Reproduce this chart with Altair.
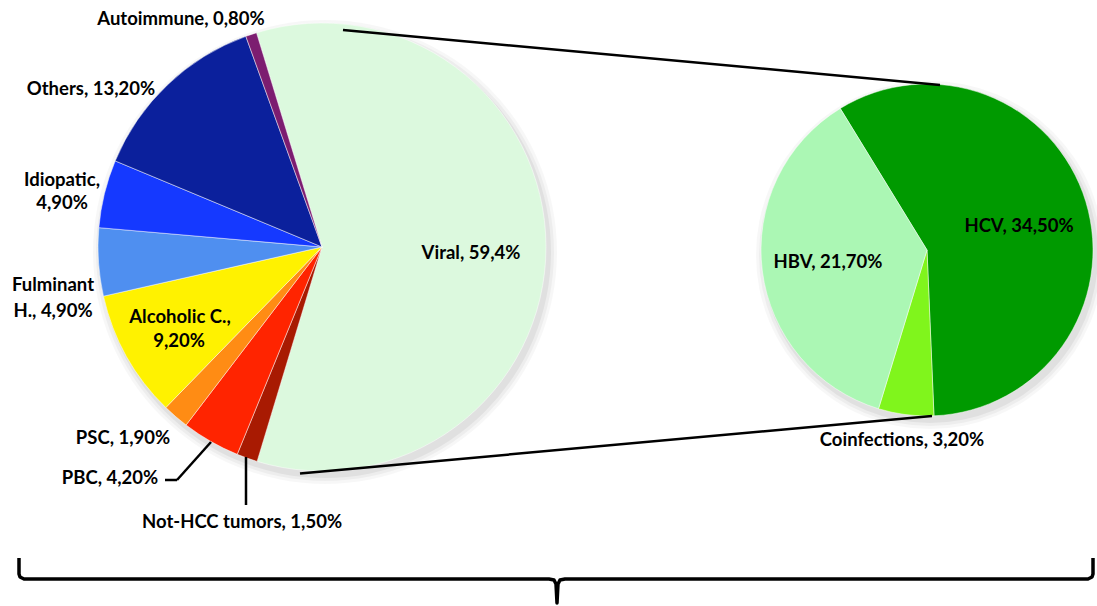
import math
import altair as alt
import pandas as pd

W, H = 1097, 606

# ---- data ----
main_cats = ["Viral", "Not-HCC tumors", "PBC", "PSC", "Alcoholic C.",
             "Fulminant H.", "Idiopatic", "Others", "Autoimmune"]
main_vals = [59.4, 1.5, 4.2, 1.9, 9.2, 4.9, 4.9, 13.2, 0.8]
main_colors = ["#dcf9de", "#a81a02", "#ff2400", "#ff8c14", "#fff200",
               "#4f8ff0", "#1539ff", "#0b209c", "#7c1d70"]

viral_cats = ["HCV", "Coinfections", "HBV"]
viral_vals = [34.5, 3.2, 21.7]
viral_colors = ["#009a00", "#80f51c", "#abf7b4"]

label_lines = ["Autoimmune, 0,80%", "Others, 13,20%", "Idiopatic,", "4,90%",
               "Fulminant", "H., 4,90%", "Alcoholic C.,", "9,20%",
               "PSC, 1,90%", "PBC, 4,20%", "Not-HCC tumors, 1,50%",
               "Viral, 59,4%", "HBV, 21,70%", "HCV, 34,50%",
               "Coinfections, 3,20%"]

# ---- layout (pixel positions) ----
label_x = [181, 91, 62, 62, 53, 53, 180, 179, 123, 110, 242, 471, 828, 1019, 902]
label_y = [19, 89, 180, 203, 285, 311, 317, 341, 438, 478, 522, 253, 262, 226, 440]

C1 = (322, 247); R1 = 224
C2 = (927, 250); R2 = 166
start1 = math.radians(-17.0)
start2 = math.radians(-31.5)

main_df = pd.DataFrame({"cat": main_cats, "value": main_vals,
                        "idx": list(range(len(main_cats)))})
viral_df = pd.DataFrame({"cat": viral_cats, "value": viral_vals,
                         "idx": list(range(len(viral_cats)))})
lab_df = pd.DataFrame({"text": label_lines, "x": label_x, "y": label_y})

seg_w = pd.DataFrame({"x": [343, 300], "y": [30, 473.5], "x2": [940, 932], "y2": [85, 416]})
lead = pd.DataFrame({"x": [165, 177, 246], "y": [480, 480, 457],
                     "x2": [177, 211, 246], "y2": [480, 442, 505]})

# brace path
brace_df = pd.DataFrame({
    "x": [19, 19, 20, 24, 549, 554, 556, 557, 558, 560, 565, 1088, 1092, 1093, 1093],
    "y": [558, 574, 577, 579, 579, 580, 584, 603, 584, 580, 579, 579, 577, 574, 558],
    "o": list(range(15)),
})

xs = alt.Scale(domain=[0, W], nice=False, zero=False)
ys = alt.Scale(domain=[0, H], nice=False, zero=False, reverse=True)

def shadow(c, r):
    layers = []
    for dr, op in [(8, 0.03), (5, 0.04), (2, 0.05)]:
        layers.append(
            alt.Chart(pd.DataFrame({"a": [0]})).mark_arc(
                theta=0, theta2=2 * math.pi, radius=r + dr,
                color="#000000", opacity=op
            ).encode(x=alt.value(c[0] + 3), y=alt.value(c[1] + 5))
        )
    return layers

conn = alt.Chart(seg_w).mark_rule(color="black", strokeWidth=2.5).encode(
    x=alt.X("x:Q", scale=xs, axis=None), y=alt.Y("y:Q", scale=ys, axis=None),
    x2="x2:Q", y2="y2:Q")

pie1 = alt.Chart(main_df).mark_arc(radius=R1, stroke="#ffffff", strokeWidth=0.8,
                                   strokeOpacity=0.6).encode(
    theta=alt.Theta("value:Q", stack=True,
                    scale=alt.Scale(range=[start1, start1 + 2 * math.pi])),
    color=alt.Color("cat:N", scale=alt.Scale(domain=main_cats, range=main_colors),
                    legend=None),
    order=alt.Order("idx:Q"),
    x=alt.value(C1[0]), y=alt.value(C1[1]),
)

pie2 = alt.Chart(viral_df).mark_arc(radius=R2, stroke="#ffffff", strokeWidth=0.8,
                                    strokeOpacity=0.6).encode(
    theta=alt.Theta("value:Q", stack=True,
                    scale=alt.Scale(range=[start2, start2 + 2 * math.pi])),
    color=alt.Color("cat:N", scale=alt.Scale(domain=viral_cats, range=viral_colors),
                    legend=None),
    order=alt.Order("idx:Q"),
    x=alt.value(C2[0]), y=alt.value(C2[1]),
)

leaders = alt.Chart(lead).mark_rule(color="black", strokeWidth=2.5).encode(
    x=alt.X("x:Q", scale=xs, axis=None), y=alt.Y("y:Q", scale=ys, axis=None),
    x2="x2:Q", y2="y2:Q")

brace = alt.Chart(brace_df).mark_line(color="black", strokeWidth=3.5,
                                      strokeJoin="round", interpolate="linear").encode(
    x=alt.X("x:Q", scale=xs, axis=None), y=alt.Y("y:Q", scale=ys, axis=None),
    order="o:Q")

labels = alt.Chart(lab_df).mark_text(font="Lato", fontWeight="bold", fontSize=18.5,
                                     color="black", align="center",
                                     baseline="middle").encode(
    x=alt.X("x:Q", scale=xs, axis=None), y=alt.Y("y:Q", scale=ys, axis=None),
    text="text:N")

chart = alt.layer(
    *shadow(C1, R1), *shadow(C2, R2), pie1, pie2, conn, leaders, brace, labels
).resolve_scale(theta="independent", color="independent").properties(
    width=W, height=H, padding=0, autosize="none", background="white"
).configure_view(stroke=None)

chart.save("out.html", embed_options={"renderer": "svg", "actions": False})
